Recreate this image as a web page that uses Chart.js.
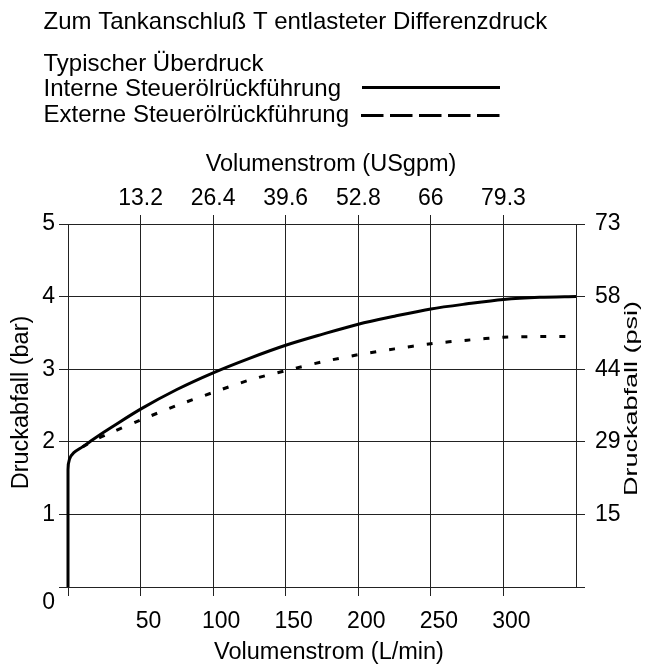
<!DOCTYPE html>
<html lang="de">
<head>
<meta charset="utf-8">
<title>Druckabfall</title>
<script src="https://cdn.jsdelivr.net/npm/chart.js@4.4.1/dist/chart.umd.min.js"></script>
<style>
  html, body { margin: 0; padding: 0; background: #fff; }
  canvas { display: block; }
</style>
</head>
<body>
<canvas id="chart" width="664" height="668"></canvas>
<script>
// Volumenstrom (L/min) und Druckabfall (bar) der beiden Kennlinien
const flowInterne = [0, 0, 1, 4, 10, 20, 30, 50, 75, 100, 125, 150, 175, 200, 225, 250, 275, 300, 325, 350];
const druckInterne = [0, 1.62, 1.76, 1.85, 1.93, 2.07, 2.2, 2.45, 2.72, 2.95, 3.15, 3.33, 3.48, 3.62, 3.73, 3.83, 3.9, 3.96, 3.99, 4.0];

// die externe Kennlinie liegt bis ca. 10 L/min auf der internen
const flowExterne = [10, 20, 30, 50, 75, 100, 125, 150, 175, 200, 225, 250, 275, 300, 325, 350];
const druckExterne = [1.93, 2.04, 2.13, 2.3, 2.5, 2.68, 2.85, 2.98, 3.1, 3.2, 3.28, 3.35, 3.4, 3.44, 3.45, 3.45];

// Achsbeschriftungen
const flowTicks = [50, 100, 150, 200, 250, 300];
const gpmLabels = ["13.2", "26.4", "39.6", "52.8", "66", "79.3"];
const psiTicks = [1, 2, 3, 4, 5];
const psiLabels = ["15", "29", "44", "58", "73"];

const FONT = '"Liberation Sans", Arial, Helvetica, sans-serif';
const tickFont = { family: FONT, size: 23 };
const lineColor = "#222";

function points(xs, ys) {
  return xs.map((x, i) => ({ x: x, y: ys[i] }));
}

//Header, legend samples and axis titles
const beschriftung = {
  id: "beschriftung",
  afterDraw(chart) {
    const ctx = chart.ctx;
    ctx.save();
    ctx.fillStyle = "#000";
    ctx.font = "24px " + FONT;
    ctx.textAlign = "left";
    ctx.textBaseline = "alphabetic";
    ctx.fillText("Zum Tankanschluß T entlasteter Differenzdruck", 43.5, 28.5);
    ctx.fillText("Typischer Überdruck", 43.5, 71);
    ctx.fillText("Interne Steuerölrückführung", 43.5, 96);
    ctx.fillText("Externe Steuerölrückführung", 43.5, 121.5);

    ctx.strokeStyle = "#000";
    ctx.lineWidth = 3;
    ctx.beginPath();
    ctx.moveTo(362, 87.5);
    ctx.lineTo(500, 87.5);
    ctx.stroke();
    ctx.setLineDash([22.5, 6.5]);
    ctx.beginPath();
    ctx.moveTo(361, 115.5);
    ctx.lineTo(500, 115.5);
    ctx.stroke();
    ctx.setLineDash([]);

    ctx.font = "23.5px " + FONT;
    ctx.textAlign = "center";
    ctx.textBaseline = "middle";
    ctx.fillText("Volumenstrom (USgpm)", 331, 165);
    ctx.fillText("Volumenstrom (L/min)", 329, 653);

    ctx.save();
    ctx.translate(21.5, 402.5);
    ctx.rotate(-Math.PI / 2);
    ctx.fillText("Druckabfall (bar)", 0, 0);
    ctx.restore();

    ctx.save();
    ctx.translate(631.5, 398.5);
    ctx.rotate(-Math.PI / 2);
    ctx.scale(1.15, 0.8);
    ctx.fillText("Druckabfall (psi)", 0, 0);
    ctx.restore();

    ctx.restore();
  },
};

const hideAt = (vals) => (c) =>
  c.tick && vals.includes(c.tick.value) ? "rgba(0,0,0,0)" : lineColor;

new Chart(document.getElementById("chart"), {
  type: "line",
  data: {
    datasets: [
      {
        label: "Interne Steuerölrückführung",
        data: points(flowInterne, druckInterne),
        borderColor: "#000",
        borderWidth: 3,
        pointRadius: 0,
        tension: 0.3,
        clip: false,
        xAxisID: "x",
        yAxisID: "y",
      },
      {
        label: "Externe Steuerölrückführung",
        data: points(flowExterne, druckExterne),
        borderColor: "#000",
        borderWidth: 3,
        borderDash: [6, 13],
        pointRadius: 0,
        tension: 0.3,
        clip: false,
        xAxisID: "x",
        yAxisID: "y",
      },
    ],
  },
  options: {
    responsive: false,
    animation: false,
    layout: { padding: 0 },
    plugins: {
      legend: { display: false },
      tooltip: { enabled: false },
    },
    scales: {
      x: {
        type: "linear",
        position: "bottom",
        min: 0,
        max: 350,
        ticks: {
          stepSize: 50,
          autoSkip: false,
          maxRotation: 0,
          padding: 12,
          labelOffset: 8,
          color: "#000",
          font: tickFont,
          callback: (v) => (flowTicks.includes(v) ? String(v) : ""),
        },
        grid: { color: lineColor, lineWidth: 1, tickLength: 9, tickColor: hideAt([350]) },
        border: { color: lineColor, width: 1 },
        afterFit(s) {
          s.height = 81;
        },
      },
      x2: {
        type: "linear",
        position: "top",
        min: 0,
        max: 350,
        ticks: {
          stepSize: 50,
          autoSkip: false,
          maxRotation: 0,
          padding: 3,
          color: "#000",
          font: tickFont,
          callback: (v) => {
            const i = flowTicks.indexOf(v);
            return i >= 0 ? gpmLabels[i] : "";
          },
        },
        grid: { drawOnChartArea: false, tickLength: 9, tickColor: hideAt([0, 350]) },
        border: { color: lineColor, width: 1 },
        afterFit(s) {
          s.height = 224;
        },
      },
      y: {
        type: "linear",
        position: "left",
        min: 0,
        max: 5,
        ticks: {
          stepSize: 1,
          padding: 4,
          color: "#000",
          font: { family: FONT, size: 23, lineHeight: 1.4 },
          callback: (v) => (v === 0 ? ["", "0"] : String(v)),
        },
        grid: { color: lineColor, lineWidth: 1, tickLength: 9, tickColor: lineColor },
        border: { color: lineColor, width: 1 },
        afterFit(s) {
          s.width = 68;
        },
      },
      y2: {
        type: "linear",
        position: "right",
        min: 0,
        max: 5,
        ticks: {
          stepSize: 1,
          padding: 10,
          color: "#000",
          font: tickFont,
          callback: (v) => {
            const i = psiTicks.indexOf(v);
            return i >= 0 ? psiLabels[i] : "";
          },
        },
        grid: { drawOnChartArea: false, tickLength: 9, tickColor: lineColor },
        border: { color: lineColor, width: 1 },
        afterFit(s) {
          s.width = 88;
        },
      },
    },
  },
  plugins: [beschriftung],
});
</script>
</body>
</html>
